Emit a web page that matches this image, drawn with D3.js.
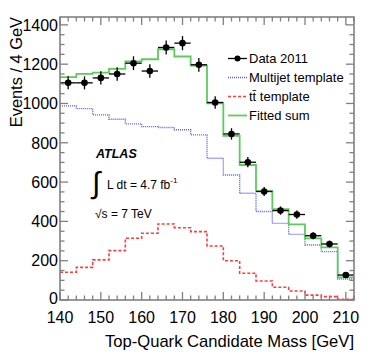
<!DOCTYPE html>
<html>
<head>
<meta charset="utf-8">
<script src="https://cdn.jsdelivr.net/npm/d3@7"></script>
<style>
  body { margin: 0; background: #fff; }
  svg { display: block; font-family: "Liberation Sans", Arial, Helvetica, sans-serif; }
</style>
</head>
<body>
<svg id="chart"></svg>
<script>
// Bin centres (4 GeV wide bins) and the histogram contents
const binCenters = [142, 146, 150, 154, 158, 162, 166, 170, 174, 178, 182, 186, 190, 194, 198, 202, 206, 210];
const binWidth = 4;
const dataValues = [1105, 1105, 1130, 1150, 1205, 1165, 1285, 1307, 1197, 1005, 845, 701, 552, 455, 435, 327, 285, 127];
const dataErrors = [33, 33, 34, 34, 35, 34, 36, 36, 35, 32, 29, 26, 23, 21, 21, 18, 17, 11];
const multijet = [988, 974, 942, 920, 896, 882, 878, 866, 840, 721, 636, 543, 450, 390, 334, 280, 246, 107];
const ttbar = [141, 166, 204, 251, 314, 340, 387, 368, 348, 275, 200, 136, 97, 65, 46, 25, 17, 4];
const fitted = [1134, 1151, 1157, 1176, 1214, 1225, 1276, 1239, 1193, 1001, 835, 687, 555, 462, 385, 314, 268, 115];

const xTicks = [140, 150, 160, 170, 180, 190, 200, 210];
const yTicks = [0, 200, 400, 600, 800, 1000, 1200, 1400];

const width = 374;
const height = 359;
const margin = { top: 17, right: 20, bottom: 59, left: 60 };
const frameColor = '#808080';

const svg = d3.select('#chart')
  .attr('width', width)
  .attr('height', height);

// Scales
const x = d3.scaleLinear()
  .domain([140, 212])
  .range([margin.left, width - margin.right]);

const y = d3.scaleLinear()
  .domain([0, 1440])
  .range([height - margin.bottom, margin.top]);

const x0 = x.range()[0], x1 = x.range()[1];
const y0 = y.range()[0], y1 = y.range()[1];

// Step-shaped histogram line
const stepLine = d3.line()
  .x(d => x(d[0]))
  .y(d => y(d[1]))
  .curve(d3.curveStepAfter);

const histPoints = values => {
  const pts = values.map((v, i) => [binCenters[i] - binWidth / 2, v]);
  pts.push([binCenters[binCenters.length - 1] + binWidth / 2, values[values.length - 1]]);
  return pts;
};

// Templates
svg.append('path')
  .attr('d', stepLine(histPoints(ttbar)))
  .attr('fill', 'none')
  .attr('stroke', '#ff3b3b')
  .attr('stroke-width', 1.6)
  .attr('stroke-dasharray', '3,2');

svg.append('path')
  .attr('d', stepLine(histPoints(multijet)))
  .attr('fill', 'none')
  .attr('stroke', '#5a5aff')
  .attr('stroke-width', 1.4)
  .attr('stroke-dasharray', '1,1');

svg.append('path')
  .attr('d', stepLine(histPoints(fitted)))
  .attr('fill', 'none')
  .attr('stroke', '#5ccc5c')
  .attr('stroke-width', 1.8);

// Data points with error bars
const pts = svg.append('g');
binCenters.forEach((c, i) => {
  pts.append('line')
    .attr('x1', x(c - binWidth / 2)).attr('x2', x(c + binWidth / 2))
    .attr('y1', y(dataValues[i])).attr('y2', y(dataValues[i]))
    .attr('stroke', '#000').attr('stroke-width', 1.3);
  pts.append('line')
    .attr('x1', x(c)).attr('x2', x(c))
    .attr('y1', y(dataValues[i] - dataErrors[i])).attr('y2', y(dataValues[i] + dataErrors[i]))
    .attr('stroke', '#000').attr('stroke-width', 1.3);
  pts.append('circle')
    .attr('cx', x(c)).attr('cy', y(dataValues[i]))
    .attr('r', 3.3)
    .attr('fill', '#000');
});

// Frame
svg.append('rect')
  .attr('x', x0).attr('y', y1)
  .attr('width', x1 - x0).attr('height', y0 - y1)
  .attr('fill', 'none')
  .attr('stroke', frameColor)
  .attr('stroke-width', 1.6);

// Ticks drawn inside the frame on all four sides (ROOT style)
const tickG = svg.append('g').attr('stroke', frameColor).attr('stroke-width', 1.3);
d3.range(140, 212.1, 2).forEach(v => {
  const major = v % 10 === 0;
  const len = major ? 8 : 4.5;
  tickG.append('line').attr('x1', x(v)).attr('x2', x(v)).attr('y1', y0).attr('y2', y0 - len);
  tickG.append('line').attr('x1', x(v)).attr('x2', x(v)).attr('y1', y1).attr('y2', y1 + len);
});
d3.range(0, 1440, 50).forEach(v => {
  const major = v % 200 === 0;
  const len = major ? 8 : 4.5;
  tickG.append('line').attr('x1', x0).attr('x2', x0 + len).attr('y1', y(v)).attr('y2', y(v));
  tickG.append('line').attr('x1', x1).attr('x2', x1 - len).attr('y1', y(v)).attr('y2', y(v));
});

// Tick labels
svg.append('g')
  .selectAll('text')
  .data(xTicks)
  .join('text')
  .attr('x', d => x(d))
  .attr('y', 322.5)
  .attr('text-anchor', 'middle')
  .attr('font-size', '16px')
  .attr('fill', '#000')
  .text(d => d);

svg.append('g')
  .selectAll('text')
  .data(yTicks)
  .join('text')
  .attr('x', x0 - 2)
  .attr('y', d => y(d) - (d === 0 ? 1.5 : 0))
  .attr('dy', '0.36em')
  .attr('text-anchor', 'end')
  .attr('font-size', '16px')
  .attr('fill', '#000')
  .text(d => d);

// Axis titles
svg.append('text')
  .attr('x', x1)
  .attr('y', 347)
  .attr('text-anchor', 'end')
  .attr('font-size', '16.6px')
  .text('Top-Quark Candidate Mass [GeV]');

svg.append('text')
  .attr('transform', `translate(22, ${y1}) rotate(-90)`)
  .attr('text-anchor', 'end')
  .attr('font-size', '16.4px')
  .text('Events / 4 GeV');

// Legend
const legend = [
  { label: 'Data 2011', type: 'data' },
  { label: 'Multijet template', color: '#5a5aff', dash: '1,1', w: 1.4 },
  { label: 'tt\u0304 template', color: '#ff3b3b', dash: '3,2', w: 1.6 },
  { label: 'Fitted sum', color: '#5ccc5c', dash: null, w: 1.8 }
];
const legendY = [58.5, 77.5, 96.5, 115.5];
legend.forEach((item, i) => {
  const ly = legendY[i];
  if (item.type === 'data') {
    svg.append('line').attr('x1', 228).attr('x2', 247).attr('y1', ly).attr('y2', ly)
      .attr('stroke', '#000').attr('stroke-width', 1.3);
    svg.append('circle').attr('cx', 237.5).attr('cy', ly).attr('r', 3).attr('fill', '#000');
  } else {
    svg.append('line').attr('x1', 228).attr('x2', 247).attr('y1', ly).attr('y2', ly)
      .attr('stroke', item.color).attr('stroke-width', item.w)
      .attr('stroke-dasharray', item.dash);
  }
  svg.append('text')
    .attr('x', 249)
    .attr('y', ly + 4.4)
    .attr('font-size', '13px')
    .text(item.label);
});

// ATLAS label and luminosity text
svg.append('text')
  .attr('x', 96)
  .attr('y', 157.5)
  .attr('font-size', '12.5px')
  .attr('font-weight', 'bold')
  .attr('font-style', 'italic')
  .text('ATLAS');

svg.append('text')
  .attr('x', 92)
  .attr('y', 193)
  .attr('font-size', '30px')
  .attr('font-family', '"DejaVu Sans", sans-serif')
  .attr('font-weight', '200')
  .text('\u222B');

const lumi = svg.append('text')
  .attr('x', 107)
  .attr('y', 188.5)
  .attr('font-size', '12px');
lumi.append('tspan').text('L dt = 4.7 fb');
lumi.append('tspan').attr('dy', -6).attr('font-size', '8px').text('-1');

svg.append('text')
  .attr('x', 95)
  .attr('y', 217.5)
  .attr('font-size', '12px')
  .text('\u221As = 7 TeV');
</script>
</body>
</html>
